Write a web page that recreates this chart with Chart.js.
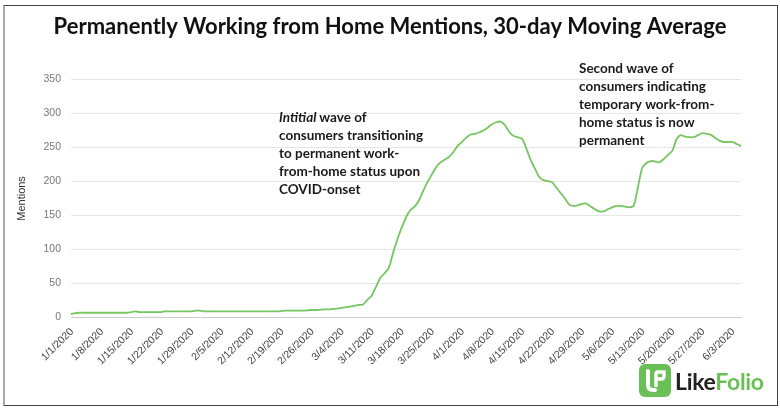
<!DOCTYPE html>
<html>
<head>
<meta charset="utf-8">
<title>Permanently Working from Home Mentions</title>
<script src="https://cdn.jsdelivr.net/npm/chart.js@4"></script>
<style>
html, body { margin: 0; padding: 0; background: #fff; }
#wrap { position: relative; width: 780px; height: 410px; overflow: hidden; }
#frame { position: absolute; left: 3px; top: 5px; width: 772px; height: 399px; border: 1px solid #444; border-left: 2px solid #aaa; }
#logo { position: absolute; left: 639px; top: 364px; width: 32px; height: 33px; }
#logotext { position: absolute; left: 675px; top: 364px; font: 700 23px/34px Lato, sans-serif; color: #222; letter-spacing: -0.3px; }
#logotext span { color: #6abf57; }
</style>
</head>
<body>
<div id="wrap">
  <canvas id="chart_wfh" width="780" height="410"></canvas>
  <div id="frame"></div>
  <svg id="logo" viewBox="0 0 32 33">
    <rect width="32" height="33" rx="6" fill="#6abf57"/>
    <path d="M9 7 V21 Q9 26 14 26 H16" stroke="#fff" stroke-width="4" fill="none" stroke-linecap="round"/>
    <path d="M17 23 V10 Q17 8 19 8 H25 V12 Q25 15 22 15 H18" stroke="#fff" stroke-width="3.4" fill="none"/>
  </svg>
  <div id="logotext">Like<span>Folio</span></div>
</div>
<script>
"use strict";

var title = "Permanently Working from Home Mentions, 30-day Moving Average";
var yTicks = [0, 50, 100, 150, 200, 250, 300, 350];
var tickLabels = ["1/1/2020", "1/8/2020", "1/15/2020", "1/22/2020", "1/29/2020", "2/5/2020", "2/12/2020", "2/19/2020", "2/26/2020", "3/4/2020", "3/11/2020", "3/18/2020", "3/25/2020", "4/1/2020", "4/8/2020", "4/15/2020", "4/22/2020", "4/29/2020", "5/6/2020", "5/13/2020", "5/20/2020", "5/27/2020", "6/3/2020"];
var mentions = [
    5, 6.5, 7, 7, 7, 7, 7,
    7, 7, 7, 7, 7, 7, 7,
    8, 9, 8, 8, 8, 8, 8, 8,
    9, 9, 9, 9, 9, 9, 9, 10, 10,
    9, 9, 9, 9, 9, 9, 9, 9, 9, 9, 9, 9, 9, 9, 9, 9, 9, 9,
    9.5, 10, 10, 10, 10, 10, 10.5, 11, 11, 11.5, 12, 12, 12.5, 13,
    14, 15, 16, 17, 18.5, 19, 26, 32, 45, 58, 65, 73, 95, 115, 132, 147, 158,
    163, 172, 186, 199, 210, 221, 228, 232, 236, 243, 252, 258, 264, 269, 270, 272,
    275, 279, 284, 287, 288, 283, 273, 267, 265, 263, 249, 232, 219, 207, 202, 200.5,
    199, 191, 183, 175, 166, 164, 165, 167, 167.5, 163, 159, 156, 156, 159, 162, 164,
    164, 163, 162, 164, 191, 220, 227, 230, 229.5, 228, 233, 239, 245, 262, 268, 266,
    265, 265, 268, 271, 270, 268.5, 264, 260, 258, 258, 258, 255, 252
];
var note1 = ["Intitial wave of", "consumers transitioning", "to permanent work-", "from-home status upon", "COVID-onset"];
var note2 = ["Second wave of", "consumers indicating", "temporary work-from-", "home status is now", "permanent"];

var labels = mentions.map(function (v, i) {
    return i % 7 === 0 ? tickLabels[i / 7] : "";
});

var notesPlugin = {
    id: "notes",
    afterLayout: function (chart) {
        // centre the title on the page, not on the padded box
        chart.titleBlock.left = 0;
        chart.titleBlock.right = 780;
    },
    afterDraw: function (chart) {
        var c = chart.ctx;
        c.save();
        c.fillStyle = "#1a1a1a";
        c.textBaseline = "middle";
        c.textAlign = "left";
        note1.forEach(function (line, i) {
            var y = 118 + i * 18;
            c.font = "700 13.5px Lato";
            if (i === 0) {
                c.font = "italic 700 13.5px Lato";
                c.fillText("Intitial", 279, y);
                var w = c.measureText("Intitial ").width;
                c.font = "700 13.5px Lato";
                c.fillText("wave of", 279 + w, y);
            } else {
                c.fillText(line, 279, y);
            }
        });
        note2.forEach(function (line, i) {
            c.font = "700 13.5px Lato";
            c.fillText(line, 579, 69 + i * 18);
        });
        c.restore();
    }
};

var ctx = document.getElementById("chart_wfh").getContext("2d");
var chart = new Chart(ctx, {
    type: "line",
    data: {
        labels: labels,
        datasets: [{
            data: mentions,
            borderColor: "#76c660",
            borderWidth: 1.8,
            pointRadius: 0,
            tension: 0.25,
            fill: false
        }]
    },
    options: {
        responsive: false,
        animation: false,
        layout: { padding: { left: 15, right: 39, top: 0, bottom: 0 } },
        plugins: {
            legend: { display: false },
            tooltip: { enabled: false },
            title: {
                display: true,
                text: title,
                color: "#111",
                font: { family: "Lato", size: 22, weight: "700" },
                padding: { top: 14, bottom: 39 }
            }
        },
        scales: {
            x: {
                offset: false,
                grid: { display: false },
                border: { color: "#ccc" },
                ticks: {
                    autoSkip: false,
                    minRotation: 45,
                    maxRotation: 45,
                    padding: 0,
                    labelOffset: 1,
                    color: "#444",
                    font: { family: "Liberation Sans", size: 10.5 }
                },
                afterFit: function (s) { s.height = 92.5; }
            },
            y: {
                min: 0,
                max: 350,
                afterBuildTicks: function (s) {
                    s.ticks = yTicks.map(function (v) { return { value: v }; });
                },
                grid: {
                    drawTicks: false,
                    color: function (c) { return c.tick.value === 0 ? "#ccc" : "#e6e6e6"; }
                },
                border: { display: false },
                ticks: {
                    padding: 10,
                    color: "#777",
                    font: { family: "Liberation Sans", size: 10.5 }
                },
                title: {
                    display: true,
                    text: "Mentions",
                    color: "#333",
                    padding: 0,
                    font: { family: "Liberation Sans", size: 11 }
                },
                afterFit: function (s) { s.width = 56; }
            }
        }
    },
    plugins: [notesPlugin]
});
</script>
</body>
</html>
